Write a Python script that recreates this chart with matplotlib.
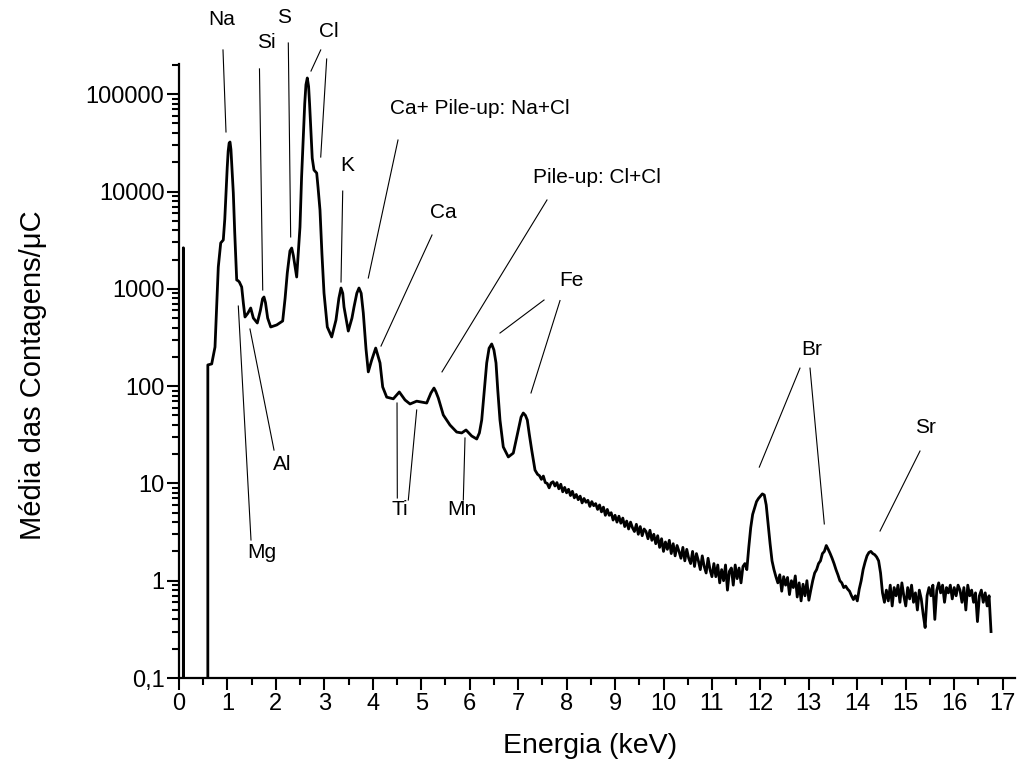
import numpy as np
import matplotlib
matplotlib.use("Agg")
import matplotlib.pyplot as plt
from matplotlib.ticker import FixedLocator, FuncFormatter, MultipleLocator, LogLocator, NullFormatter

plt.rcParams['font.family'] = ['Liberation Sans', 'DejaVu Sans']

# ---- spectrum: low-energy part (explicit points) ----
low_energy = [0.0, 0.085, 0.09, 0.095, 0.59, 0.595, 0.675, 0.743, 0.78, 0.811, 0.861, 0.914,
              0.945, 0.970, 0.995, 1.015, 1.035, 1.053, 1.072, 1.092, 1.121, 1.15, 1.191,
              1.22, 1.245, 1.294, 1.33, 1.362, 1.42, 1.480, 1.534, 1.616, 1.68, 1.725,
              1.754, 1.785, 1.83, 1.893, 2.017, 2.140, 2.19, 2.235, 2.29, 2.326, 2.36,
              2.429, 2.497, 2.53, 2.566, 2.595, 2.62, 2.648, 2.675, 2.695, 2.718, 2.75,
              2.786, 2.842, 2.87, 2.910, 2.95, 2.993, 3.061, 3.152, 3.240, 3.30, 3.344,
              3.38, 3.406, 3.494, 3.57, 3.612, 3.67, 3.715, 3.76, 3.804, 3.86, 3.907,
              3.977, 4.060, 4.149, 4.204, 4.287, 4.423, 4.547, 4.665, 4.768, 4.906,
              5.113, 5.20, 5.263, 5.30, 5.352, 5.455, 5.593, 5.732, 5.835, 5.924, 6.041,
              6.145, 6.20, 6.248, 6.30, 6.351, 6.40, 6.454, 6.50, 6.543, 6.58, 6.625,
              6.693, 6.797, 6.900, 6.96, 7.003, 7.06, 7.106, 7.15, 7.189, 7.23, 7.280,
              7.348, 7.40]
low_counts = [0, 0, 2640, 0, 0, 165, 169, 252, 700, 1675, 2960, 3175,
              5200, 9660, 17500, 26000, 31500, 32270, 27000, 18000, 9660, 3800, 1231,
              1210, 1175, 1043, 700, 513, 560, 635, 501, 445, 600, 790,
              824, 720, 500, 405, 425, 467, 800, 1453, 2450, 2625, 2200,
              1322, 4315, 14000, 36300, 80000, 125000, 146800, 120000, 80000, 46000, 22000,
              16630, 15490, 11000, 6450, 2300, 905, 405, 320, 478, 800, 1019,
              900, 650, 368, 500, 650, 900, 1019, 900, 564, 240, 140,
              185, 246, 173, 98, 77, 74, 87, 72, 65.5, 70,
              67, 85, 95.5, 88, 75.5, 50.5, 39.8, 33.7, 33, 35.4, 30.7,
              28.6, 33, 44.8, 90, 173, 245, 271, 235, 173, 90, 44.8,
              23.7, 18.7, 20.5, 28, 35.4, 48, 52.9, 50, 44.8, 32, 22,
              13.7, 12.4]

# ---- spectrum: high-energy part, channels every 0.04 keV from 7.44 keV ----
tail_start = 7.44
tail_step = 0.04
tail_counts = [
    12.0, 11.0, 11.9, 10.2, 10.0, 9.0, 10.1, 10.4, 9.4, 10.2, 8.8, 9.8, 8.2, 9.1, 8.0,
    8.7, 7.5, 8.3, 7.1, 7.7, 6.8, 7.4, 6.3, 7.0, 6.4, 6.7, 5.8, 6.5, 5.9, 6.2, 5.4,
    6.0, 5.1, 5.7, 4.7, 5.4, 4.7, 5.0, 4.2, 4.7,
    4.0, 4.6, 3.9, 4.4, 3.6, 4.1, 3.4, 4.0, 3.5, 3.2, 3.8, 3.0, 3.6, 2.9, 3.4, 3.2,
    2.7, 3.3, 2.6, 3.0, 2.4, 2.9, 2.2, 2.7, 2.0,
    2.5, 2.1, 2.6, 1.9, 2.4, 1.8, 2.3, 2.0, 1.7, 2.2, 1.6, 2.1, 1.7, 1.5, 2.0, 1.4,
    1.9, 1.6, 1.3, 1.8, 1.4, 1.2, 1.7, 1.3, 1.1,
    1.5, 1.1, 1.45, 0.95, 1.3, 1.0, 1.45, 0.8, 1.25, 1.35, 0.9, 1.45, 1.05, 1.35, 0.95, 1.4,
    1.5, 1.3,
    2.2, 3.5, 4.8, 5.6, 6.5, 7.0, 7.4, 7.8, 7.6, 6.0, 3.8, 2.4, 1.6, 1.3, 1.1,
    0.95, 1.15, 0.78, 1.1, 0.9, 1.08, 0.72, 1.0, 0.85, 1.12, 0.68, 0.95, 0.62, 0.92, 0.7,
    1.0, 0.63, 0.8, 1.0,
    1.2, 1.3, 1.5, 1.6, 1.9, 2.0, 2.3, 2.1, 1.9, 1.7, 1.5, 1.3, 1.15, 1.0, 0.95, 0.85,
    0.88, 0.82, 0.78, 0.7, 0.64, 0.7, 0.62, 0.82,
    1.0, 1.3, 1.55, 1.8, 1.95, 2.0, 1.9, 1.85, 1.75, 1.6, 1.2, 0.75, 0.6,
    0.8, 0.62, 0.9, 0.55, 0.85, 0.7, 0.9, 0.6, 0.95, 0.7,
    0.55, 0.85, 0.65, 0.9, 0.6, 0.75, 0.5, 0.8, 0.65, 0.45,
    0.33, 0.7, 0.85, 0.7, 0.9, 0.4, 0.8, 0.95, 0.75, 0.9,
    0.6, 0.85, 0.75, 0.9, 0.65, 0.85, 0.7, 0.9, 0.8, 0.6,
    0.85, 0.5, 0.9, 0.7, 0.8, 0.6, 0.75, 0.38, 0.7, 0.8,
    0.6, 0.75, 0.55, 0.7, 0.3,
]

y_tick_values = [0.1, 1, 10, 100, 1000, 10000, 100000]
y_tick_labels = ["0,1", "1", "10", "100", "1000", "10000", "100000"]
x_tick_values = list(range(0, 18))

# annotations: (text, text position, list of leader lines)
annotations = [
    ("Na", (0.888, 5.79e5), [((0.908, 2.85e5), (0.970, 40900))]),
    ("Si", (1.81, 3.36e5), [((1.661, 1.82e5), (1.728, 972))]),
    ("S", (2.167, 6.21e5), [((2.256, 3.36e5), (2.305, 3410))]),
    ("Cl", (3.096, 4.46e5), [((2.925, 2.85e5), (2.724, 1.73e5)),
                             ((3.048, 2.30e5), (2.925, 22600))]),
    ("K", (3.467, 18700), [((3.379, 10100), (3.344, 1175))]),
    ("Ca+ Pile-up: Na+Cl", (6.213, 72100), [((4.52, 33800), (3.907, 1291))]),
    ("Ca", (5.449, 6150), [((5.222, 3570), (4.169, 258))]),
    ("Pile-up: Cl+Cl", (8.627, 13800), [((7.595, 8180), (5.428, 140))]),
    ("Fe", (8.091, 1231), [((7.534, 767), (6.625, 351)),
                           ((7.864, 757), (7.265, 85))]),
    ("Br", (13.065, 235), [((12.817, 153), (11.977, 14.7)),
                           ((13.024, 153), (13.319, 3.83))]),
    ("Sr", (15.397, 37.1), [((15.294, 21.5), (14.469, 3.24))]),
    ("Al", (2.126, 15.5), [((1.465, 386), (1.961, 22.0))]),
    ("Mg", (1.713, 1.93), [((1.224, 665), (1.486, 2.62))]),
    ("Ti", (4.561, 5.33), [((4.50, 67), (4.506, 7.08)),
                           ((4.906, 56.8), (4.733, 6.75))]),
    ("Mn", (5.841, 5.33), [((5.903, 29.3), (5.868, 6.75))]),
]

tail_energy = tail_start + tail_step * np.arange(len(tail_counts))
energy = np.concatenate([low_energy, tail_energy])
counts = np.concatenate([low_counts, tail_counts])

fig = plt.figure(figsize=(10.17, 7.69), dpi=100)
ax = fig.add_axes([179/1017, 1 - 678/769, (1015 - 179)/1017, (678 - 64)/769])
ax.set_yscale('log', nonpositive='clip')
ax.plot(energy, counts, color='black', lw=2.0, solid_joinstyle='round')
ax.set_xlim(0, (1015 - 179) / 48.45)
ax.set_ylim(0.1, 10 ** ((678 - 64) / 97.3 - 1))

for s in ['top', 'right']:
    ax.spines[s].set_visible(False)
for s in ['left', 'bottom']:
    ax.spines[s].set_linewidth(1.6)

ax.yaxis.set_major_locator(FixedLocator(y_tick_values))
ax.yaxis.set_major_formatter(FuncFormatter(lambda v, p: y_tick_labels[y_tick_values.index(v)] if v in y_tick_values else ""))
ax.yaxis.set_minor_locator(LogLocator(base=10, subs=np.arange(2, 10)))
ax.yaxis.set_minor_formatter(NullFormatter())
ax.xaxis.set_major_locator(FixedLocator(x_tick_values))
ax.xaxis.set_minor_locator(MultipleLocator(0.5))
ax.tick_params(which='major', direction='out', length=8.5, width=1.5, labelsize=17, pad=2)
ax.tick_params(which='minor', direction='out', length=5, width=1.5)

ax.set_xlabel("Energia (keV)", fontsize=20.5)
ax.set_ylabel("Média das Contagens/μC", fontsize=21)
ax.xaxis.set_label_coords((590 - 179) / 836, (678 - 733) / 614)
ax.yaxis.set_label_coords((47 - 179) / 836, (678 - 375) / 614)

for text, pos, lines in annotations:
    ax.text(pos[0], pos[1], text, ha='center', va='center', fontsize=15, clip_on=False)
    for (p0, p1) in lines:
        ax.plot([p0[0], p1[0]], [p0[1], p1[1]], color='black', lw=0.8, clip_on=False)

fig.savefig("out.png", dpi=100)
